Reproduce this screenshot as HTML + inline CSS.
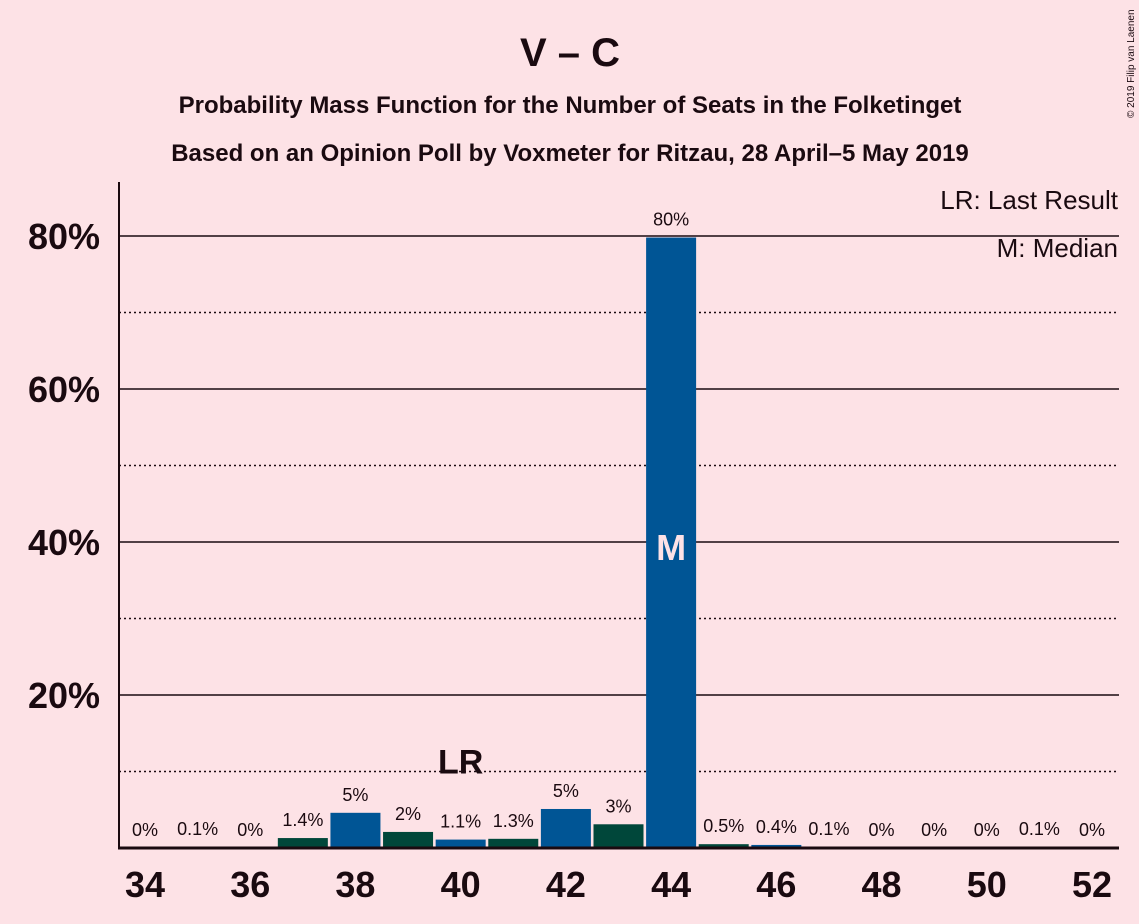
<!DOCTYPE html>
<html><head><meta charset="utf-8"><style>
body{margin:0;background:#fde2e6;}
svg{display:block;font-family:"Liberation Sans",sans-serif;}
</style></head><body>
<svg id="chart" width="1139" height="924" viewBox="0 0 1139 924">
<rect width="1139" height="924" fill="#fde2e6"/>
<text x="570" y="66" text-anchor="middle" font-size="40" font-weight="bold" fill="#1a0a10">V – C</text>
<text x="570" y="113" text-anchor="middle" font-size="24" font-weight="bold" fill="#1a0a10">Probability Mass Function for the Number of Seats in the Folketinget</text>
<text x="570" y="161" text-anchor="middle" font-size="24" font-weight="bold" fill="#1a0a10">Based on an Opinion Poll by Voxmeter for Ritzau, 28 April–5 May 2019</text>
<text x="1134" y="118" font-size="10" fill="#1a0a10" transform="rotate(-90 1134 118)">© 2019 Filip van Laenen</text>
<g id="grid"></g>
<g id="bars"></g>
<g id="labels"></g>
<line x1="119" y1="182" x2="119" y2="849" stroke="#1a0a10" stroke-width="2"/>
<line x1="118" y1="848" x2="1119" y2="848" stroke="#1a0a10" stroke-width="3"/>
<text x="1118" y="209" text-anchor="end" font-size="26" fill="#1a0a10">LR: Last Result</text>
<text x="1118" y="257" text-anchor="end" font-size="26" fill="#1a0a10">M: Median</text>
</svg>
<script>
const seats=[34,35,36,37,38,39,40,41,42,43,44,45,46,47,48,49,50,51,52];
const probs=[0,0.1,0,1.3,4.6,2.1,1.1,1.2,5.1,3.1,79.8,0.5,0.4,0.1,0,0,0,0.1,0];
const printed=["0%","0.1%","0%","1.4%","5%","2%","1.1%","1.3%","5%","3%","80%","0.5%","0.4%","0.1%","0%","0%","0%","0.1%","0%"];
const yTicks=[20,40,60,80];
const yMinor=[10,30,50,70];
const xTicks=[34,36,38,40,42,44,46,48,50,52];
const lastResult=40, median=44;
const NS="http://www.w3.org/2000/svg";
const X=s=>145+(s-34)*(1092-145)/18;
const Y=v=>848-v*(848-236)/80;
function mk(t,a,p){const e=document.createElementNS(NS,t);for(const k in a)e.setAttribute(k,a[k]);p.appendChild(e);return e;}
const grid=document.getElementById('grid'),bars=document.getElementById('bars'),labels=document.getElementById('labels'),svg=document.getElementById('chart');
yMinor.forEach(v=>{const l=mk('line',{x1:119,x2:1119,y1:Y(v),y2:Y(v),stroke:'#1a0a10','stroke-width':1.5,'stroke-dasharray':'2,3'},grid);

});
yTicks.forEach(v=>{const l=mk('line',{x1:119,x2:1119,y1:Y(v),y2:Y(v),stroke:'#1a0a10','stroke-width':1.5},grid);


const t=mk('text',{x:100,y:Y(v)+13,'text-anchor':'end','font-size':36,'font-weight':'bold',fill:'#1a0a10'},svg);t.textContent=v+'%';

});
xTicks.forEach(s=>{const t=mk('text',{x:X(s),y:897,'text-anchor':'middle','font-size':36,'font-weight':'bold',fill:'#1a0a10'},svg);t.textContent=s;

});
seats.forEach((s,i)=>{const v=probs[i];
if(v>0){const col=s%2===0?'#005595':'#00473a';
const r=mk('rect',{x:X(s)-25,y:Y(v),width:50,height:848-Y(v),fill:col},bars);

}
const t=mk('text',{x:X(s),y:Y(v)-12,'text-anchor':'middle','font-size':18,fill:'#1a0a10'},labels);t.textContent=printed[i];


if(s===lastResult){const lr=mk('text',{x:X(s),y:Y(v)-66,'text-anchor':'middle','font-size':34,'font-weight':'bold',fill:'#1a0a10'},labels);lr.textContent='LR';

}
if(s===median){const m=mk('text',{x:X(s),y:Y(40)+18,'text-anchor':'middle','font-size':36,'font-weight':'bold',fill:'#fde2e6'},labels);m.textContent='M';

}
});
</script>
</body></html>
